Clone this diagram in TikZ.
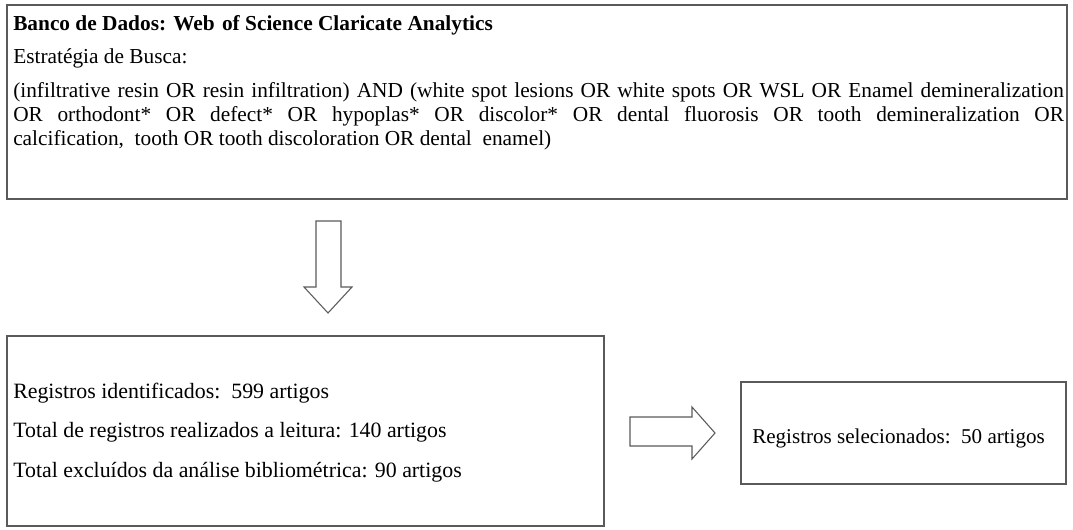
\documentclass[tikz,border=0pt]{standalone}
\usepackage{fontspec}
\setmainfont{Liberation Serif}
\definecolor{boxgray}{HTML}{5A5A5A}
\begin{document}
\begin{tikzpicture}[x=0.75pt,y=-0.75pt,
  box/.style={draw=boxgray, line width=1.1pt, rectangle, inner sep=0pt},
  txt/.style={anchor=base west, inner sep=0pt, font=\fontsize{16}{19}\selectfont},
  txtb/.style={anchor=base west, inner sep=0pt, font=\fontsize{16.4}{19}\selectfont},
  txtr/.style={anchor=base west, inner sep=0pt, font=\fontsize{15.8}{19}\selectfont},
  blockarrow/.style={draw=boxgray, line width=0.8pt, fill=white, line join=miter}]
\useasboundingbox (0,0) rectangle (1073,529);
% boxes
\node[box, minimum width=795pt, minimum height=145.5pt] (top) at (537,102) {};
\node[box, minimum width=447.75pt, minimum height=142.5pt] (left) at (305.5,431) {};
\node[box, minimum width=243.75pt, minimum height=76.5pt] (right) at (903.5,433) {};
% top box text
\node[txt, font=\fontsize{16}{19}\selectfont\bfseries] (title) at (13,30) {Banco de Dados: Web\hspace{1.5pt} of Science Claricate Analytics};
\node[txt] (estr) at (13,63) {Estratégia de Busca:};
\node[txt] (q1) at (13,97) {\makebox[788pt][s]{(infiltrative resin OR resin infiltration) AND (white spot lesions OR white spots OR WSL OR Enamel demineralization}};
\node[txt] (q2) at (13,121) {\makebox[788pt][s]{OR orthodont* OR defect* OR hypoplas* OR discolor* OR dental fluorosis OR tooth demineralization OR}};
\node[txt] (q3) at (13,145) {calcification,\ \ tooth OR tooth discoloration OR dental\ \ enamel)};
% bottom left text
\node[txtb] (r1) at (13,398) {Registros identificados:\ \ 599 artigos};
\node[txtb] (r2) at (13,437) {Total de registros realizados a leitura: 140 artigos};
\node[txtb] (r3) at (13,477) {Total excluídos da análise bibliométrica: 90 artigos};
% right text
\node[txtr] (s1) at (752,443) {Registros selecionados:\ \ 50 artigos};
% block arrows
\draw[blockarrow] (316,221) -- (341,221) -- (341,287) -- (352,287) -- (328,313) -- (304,287) -- (316,287) -- cycle;
\draw[blockarrow] (630,417) -- (692,417) -- (692,407) -- (715,433) -- (692,459) -- (692,446) -- (630,446) -- cycle;
\end{tikzpicture}
\end{document}
